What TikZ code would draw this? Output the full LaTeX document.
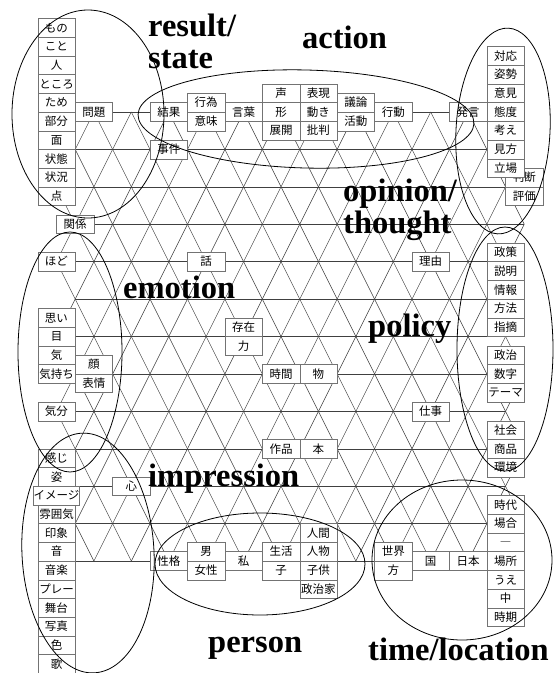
\documentclass[tikz,border=0pt]{standalone}
\usepackage{fontspec}
\setmainfont{Liberation Serif}
\newfontfamily\jpfont{Noto Sans CJK JP}
\usetikzlibrary{positioning}

\begin{document}
\begin{tikzpicture}[x=1pt, y=-1pt,
  word/.style={draw=black!55, fill=white, font=\jpfont\fontsize{11.5}{12}\selectfont,
    minimum width=37.42pt, minimum height=18.71pt, inner sep=0pt, outer sep=0pt,
    text height=9.5pt, text depth=1pt},
  lat/.style={black!75, line width=0.5pt},
  grp/.style={draw, line width=0.8pt},
  cat/.style={font=\bfseries\fontsize{32.5}{32}\selectfont, inner sep=0pt,
    anchor=base west, align=left},
  node distance=0pt]
\useasboundingbox (0,0) rectangle (558,673);

\begin{scope}[shift={(56.5,112)}, x=37.42pt, y=-18.71pt]
% lattice
\foreach \r in {0,...,12}
  \foreach \k in {0,...,12}
    \coordinate (v\r-\k) at ({\k+0.5*mod(\r,2)}, {2*\r});
\foreach \r in {0,...,12}
  \draw[lat] (v\r-0) -- (v\r-12);
\foreach \r [evaluate=\r as \s using int(\r+1)] in {0,...,11} {
  \foreach \k in {0,...,12} {
    \pgfmathtruncatemacro\j{\k-1+2*mod(\r,2)}
    \draw[lat] (v\r-\k) -- (v\s-\k);
    \ifnum\j>-1 \ifnum\j<13 \draw[lat] (v\r-\k) -- (v\s-\j); \fi\fi
  }
}

% left column
\node[word] (mono) at (0,-4.5) {もの};
\node[word, below=of mono] (koto) {こと};
\node[word, below=of koto] (hito) {人};
\node[word, below=of hito] (tokoro) {ところ};
\node[word, below=of tokoro] (tame) {ため};
\node[word, below=of tame] (bubun) {部分};
\node[word, below=of bubun] (men) {面};
\node[word, below=of men] (joutai) {状態};
\node[word, below=of joutai] (joukyou) {状況};
\node[word, below=of joukyou] (ten) {点};
\node[word] (kankei) at (0.5,6) {関係};
\node[word] (hodo) at (0,8) {ほど};
\node[word] (omoi) at (0,11) {思い};
\node[word, below=of omoi] (me) {目};
\node[word, below=of me] (ki) {気};
\node[word, below=of ki] (kimochi) {気持ち};
\node[word] (kao) at (1,13.5) {顔};
\node[word, below=of kao] (hyoujou) {表情};
\node[word] (kibun) at (0,16) {気分};
\node[word] (kanji) at (0,18.5) {感じ};
\node[word, below=of kanji] (sugata) {姿};
\node[word, below=of sugata] (imeeji) {イメージ};
\node[word, below=of imeeji] (funiki) {雰囲気};
\node[word, below=of funiki] (inshou) {印象};
\node[word, below=of inshou] (oto) {音};
\node[word, below=of oto] (ongaku) {音楽};
\node[word, below=of ongaku] (puree) {プレー};
\node[word, below=of puree] (butai) {舞台};
\node[word, below=of butai] (shashin) {写真};
\node[word, below=of shashin] (iro) {色};
\node[word, below=of iro] (uta) {歌};

% top row
\node[word] (mondai) at (1,0) {問題};
\node[word] (kekka) at (3,0) {結果};
\node[word] (koui) at (4,-0.5) {行為};
\node[word, below=of koui] (imi) {意味};
\node[word] (kotoba) at (5,0) {言葉};
\node[word] (koe) at (6,-1) {声};
\node[word, below=of koe] (katachi) {形};
\node[word, below=of katachi] (tenkai) {展開};
\node[word] (hyougen) at (7,-1) {表現};
\node[word, below=of hyougen] (ugoki) {動き};
\node[word, below=of ugoki] (hihan) {批判};
\node[word] (giron) at (8,-0.5) {議論};
\node[word, below=of giron] (katsudou) {活動};
\node[word] (koudou) at (9,0) {行動};
\node[word] (hatsugen) at (11,0) {発言};
\node[word] (jiken) at (3,2) {事件};

% right column
\node[word] (handan) at (12.5,3.5) {判断};
\node[word, below=of handan] (hyouka) {評価};
\node[word] (taiou) at (12,-3) {対応};
\node[word, below=of taiou] (shisei) {姿勢};
\node[word, below=of shisei] (iken) {意見};
\node[word, below=of iken] (taido) {態度};
\node[word, below=of taido] (kangae) {考え};
\node[word, below=of kangae] (mikata) {見方};
\node[word, below=of mikata] (tachiba) {立場};
\node[word] (seisaku) at (12,7.5) {政策};
\node[word, below=of seisaku] (setsumei) {説明};
\node[word, below=of setsumei] (jouhou) {情報};
\node[word, below=of jouhou] (houhou) {方法};
\node[word, below=of houhou] (shiteki) {指摘};
\node[word] (seiji) at (12,13) {政治};
\node[word, below=of seiji] (suuji) {数字};
\node[word, below=of suuji] (teema) {テーマ};
\node[word] (shakai) at (12,17) {社会};
\node[word, below=of shakai] (shouhin) {商品};
\node[word, below=of shouhin] (kankyou) {環境};
\node[word] (jidai) at (12,21) {時代};
\node[word, below=of jidai] (baai) {場合};
\node[word, below=of baai] (bou) {―};
\node[word, below=of bou] (basho) {場所};
\node[word, below=of basho] (ue) {うえ};
\node[word, below=of ue] (naka) {中};
\node[word, below=of naka] (jiki) {時期};

% middle
\node[word] (hanashi) at (4,8) {話};
\node[word] (riyuu) at (10,8) {理由};
\node[word] (sonzai) at (5,11.5) {存在};
\node[word, below=of sonzai] (chikara) {力};
\node[word] (jikan) at (6,14) {時間};
\node[word] (butsu) at (7,14) {物};
\node[word] (shigoto) at (10,16) {仕事};
\node[word] (sakuhin) at (6,18) {作品};
\node[word] (hon) at (7,18) {本};
\node[word] (kokoro) at (2,20) {心};

% bottom row
\node[word] (seikaku) at (3,24) {性格};
\node[word] (otoko) at (4,23.5) {男};
\node[word, below=of otoko] (josei) {女性};
\node[word] (watashi) at (5,24) {私};
\node[word] (seikatsu) at (6,23.5) {生活};
\node[word, below=of seikatsu] (ko) {子};
\node[word] (ningen) at (7,22.5) {人間};
\node[word, below=of ningen] (jinbutsu) {人物};
\node[word, below=of jinbutsu] (kodomo) {子供};
\node[word, below=of kodomo] (seijika) {政治家};
\node[word] (sekai) at (9,23.5) {世界};
\node[word, below=of sekai] (hou) {方};
\node[word] (kuni) at (10,24) {国};
\node[word] (nihon) at (11,24) {日本};
\end{scope}

% clusters
\draw[grp] (88,114) ellipse [x radius=76, y radius=104];
\draw[grp, rotate around={-1.5:(306,119)}] (306,119) ellipse [x radius=168, y radius=49];
\draw[grp, rotate around={-3:(503,131)}] (503,131) ellipse [x radius=47, y radius=103];
\draw[grp] (70,352) ellipse [x radius=52, y radius=120];
\draw[grp] (505,349) ellipse [x radius=48, y radius=122];
\draw[grp, rotate around={3:(88,553)}] (88,553) ellipse [x radius=66, y radius=120];
\draw[grp] (260,564) ellipse [x radius=105, y radius=51];
\draw[grp] (462,560) ellipse [x radius=90, y radius=80];

% two-line labels sit on their last baseline
\node[cat] (lresult) at (148,68) {result/\\state};
\node[cat] (laction) at (302,48) {action};
\node[cat] (lopinion) at (343,233) {opinion/\\thought};
\node[cat] (lemotion) at (123,298) {emotion};
\node[cat] (lpolicy) at (368,336) {policy};
\node[cat] (limpress) at (148,486) {impression};
\node[cat] (lperson) at (208,652) {person};
\node[cat] (ltime) at (368,660) {time/location};
\end{tikzpicture}
\end{document}
